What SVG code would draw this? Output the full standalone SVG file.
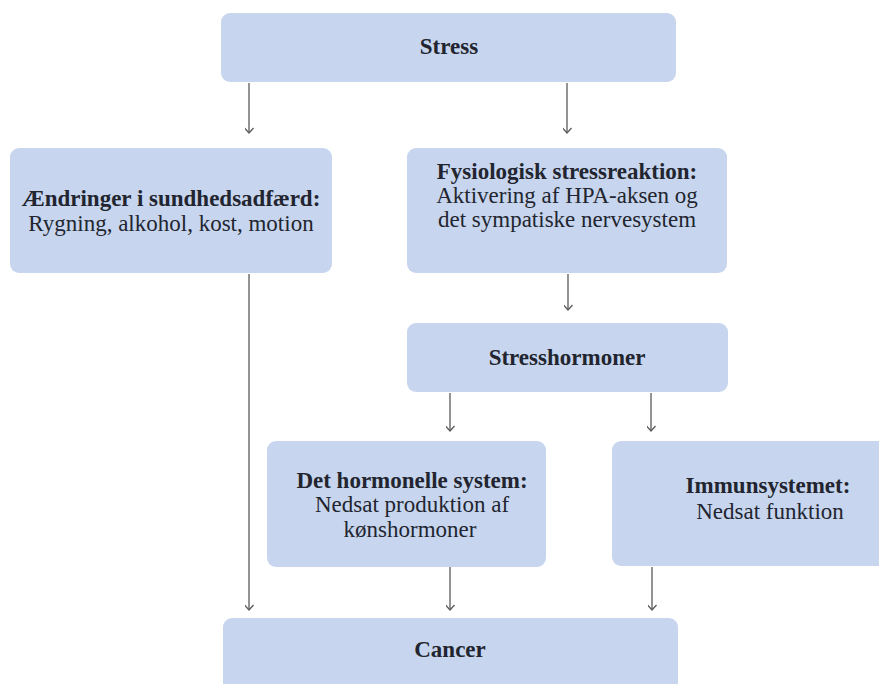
<svg xmlns="http://www.w3.org/2000/svg" width="879" height="684" viewBox="0 0 879 684">
  <defs>
    <style>
      .box { fill: #c7d6ee; }
      .t { font-family: "Liberation Serif", "Times New Roman", serif; font-size: 23px; fill: #22252f; text-anchor: middle; }
      .b { font-weight: bold; }
      .edge { stroke: #5a5a5a; stroke-width: 1.3; fill: none; marker-end: url(#arrow); }
    </style>
    <marker id="arrow" markerUnits="userSpaceOnUse" markerWidth="12" markerHeight="12" viewBox="-6 -8 12 12" refX="0" refY="0" orient="auto">
      <path d="M -5,-4.5 L 0,0 L -5,4.5" fill="none" stroke="#5a5a5a" stroke-width="1.3"/>
    </marker>
  </defs>

  <rect width="879" height="684" fill="#ffffff"/>

  <!-- connectors -->
  <g id="connectors">
    <line class="edge" x1="249" y1="83" x2="249" y2="133"/>
    <line class="edge" x1="567" y1="83" x2="567" y2="133"/>
    <line class="edge" x1="568" y1="274" x2="568" y2="310"/>
    <line class="edge" x1="450" y1="393" x2="450" y2="431"/>
    <line class="edge" x1="651" y1="393" x2="651" y2="431"/>
    <line class="edge" x1="249" y1="274" x2="249" y2="610"/>
    <line class="edge" x1="450" y1="567" x2="450" y2="610"/>
    <line class="edge" x1="652" y1="567" x2="652" y2="610"/>
  </g>

  <!-- nodes -->
  <g id="stress">
    <rect class="box" x="221" y="13" width="455" height="69" rx="9"/>
    <text class="t b" x="449" y="54">Stress</text>
  </g>

  <g id="adfaerd">
    <rect class="box" x="10" y="148" width="322" height="125" rx="9"/>
    <text class="t b" x="171" y="206">Ændringer i sundhedsadfærd:</text>
    <text class="t" x="171" y="231">Rygning, alkohol, kost, motion</text>
  </g>

  <g id="fysiologisk">
    <rect class="box" x="407" y="148" width="320" height="125" rx="9"/>
    <text class="t b" x="567" y="179">Fysiologisk stressreaktion:</text>
    <text class="t" x="567" y="203">Aktivering af HPA-aksen og</text>
    <text class="t" x="567" y="227">det sympatiske nervesystem</text>
  </g>

  <g id="stresshormoner">
    <rect class="box" x="407" y="323" width="321" height="69" rx="9"/>
    <text class="t b" x="567" y="365">Stresshormoner</text>
  </g>

  <g id="hormonelle">
    <rect class="box" x="267" y="441" width="279" height="126" rx="9"/>
    <text class="t b" x="412" y="488">Det hormonelle system:</text>
    <text class="t" x="412" y="512">Nedsat produktion af</text>
    <text class="t" x="410" y="537">kønshormoner</text>
  </g>

  <g id="immunsystemet">
    <rect class="box" x="612" y="441" width="320" height="125" rx="9"/>
    <text class="t b" x="768" y="493">Immunsystemet:</text>
    <text class="t" x="770" y="519">Nedsat funktion</text>
  </g>

  <g id="cancer">
    <rect class="box" x="223" y="618" width="455" height="80" rx="9"/>
    <text class="t b" x="450" y="657">Cancer</text>
  </g>
</svg>
